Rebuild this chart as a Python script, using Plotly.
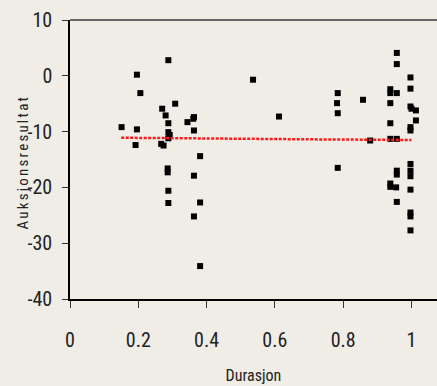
import plotly.graph_objects as go

durasjon = [0.151, 0.196, 0.206, 0.196, 0.192, 0.288, 0.308, 0.270, 0.280, 0.288,
            0.288, 0.292, 0.288, 0.267, 0.274, 0.344, 0.361, 0.363, 0.363, 0.381,
            0.363, 0.286, 0.286, 0.288, 0.288, 0.381, 0.363, 0.381, 0.536, 0.612,
            0.784, 0.782, 0.784, 0.784, 0.858, 0.879, 0.938, 0.938, 0.938, 0.938,
            0.938, 0.957, 0.957, 0.957, 0.957, 0.997, 0.997, 0.997, 1.000, 1.013,
            1.013, 0.997, 0.997, 0.997, 0.997, 0.997, 0.997, 0.997, 0.997, 0.997,
            0.957, 0.957, 0.938, 0.938, 0.955, 0.957]
resultat = [-9.2, 0.2, -3.1, -9.6, -12.4, 2.8, -5.0, -5.9, -7.1, -8.5,
            -10.1, -10.6, -11.2, -12.2, -12.5, -8.3, -7.7, -7.4, -9.8, -14.4,
            -17.9, -16.6, -17.3, -20.6, -22.8, -22.7, -25.2, -34.1, -0.7, -7.3,
            -3.1, -4.9, -6.7, -16.5, -4.3, -11.6, -2.4, -3.1, -4.9, -8.5,
            -11.3, 4.1, 2.1, -3.1, -11.3, -0.3, -2.3, -5.5, -5.9, -6.2,
            -8.0, -9.2, -9.8, -15.8, -17.0, -18.0, -20.4, -24.5, -25.2, -27.7,
            -17.0, -17.7, -19.3, -19.9, -20.0, -22.6]

trend_x = [0.15, 0.29, 0.735, 1.0]
trend_y = [-11.1, -11.2, -11.4, -11.5]

x_ticks = [0, 0.2, 0.4, 0.6, 0.8, 1]
x_labels = ["0", "0.2", "0.4", "0.6", "0.8", "1"]
y_ticks = [-40, -30, -20, -10, 0, 10]
y_labels = ["-40", "-30", "-20", "-10", "0", "10"]

BG = "#f0ede7"
FONT = "Roboto Condensed, Liberation Sans Narrow, DejaVu Sans Condensed, sans-serif"

fig = go.Figure()
fig.add_trace(go.Scatter(x=durasjon, y=resultat, mode="markers",
                         marker=dict(symbol="square", size=6, color="black"),
                         showlegend=False))
fig.add_trace(go.Scatter(x=trend_x, y=trend_y, mode="lines",
                         line=dict(color="#ff1a1a", width=2.5, dash="3px,1.5px"),
                         showlegend=False))

fig.update_layout(
    width=437, height=386,
    margin=dict(l=70, r=0, t=20, b=87),
    paper_bgcolor=BG, plot_bgcolor=BG,
    font=dict(family=FONT, color="#222222"),
    xaxis=dict(range=[0, 1.0747], tickvals=x_ticks, ticktext=x_labels,
               showgrid=False, zeroline=False, showline=True, linecolor="black",
               linewidth=1.5, ticks="outside", ticklen=7, tickcolor="#333333",
               tickwidth=1, tickfont=dict(size=20), ticklabelstandoff=15,
               title=dict(text="Durasjon", font=dict(size=16), standoff=19)),
    yaxis=dict(range=[-40, 10], tickvals=y_ticks, ticktext=y_labels,
               showgrid=False, zeroline=False, showline=True, linecolor="black",
               linewidth=1.5, ticks="outside", ticklen=6, tickcolor="#333333",
               tickwidth=1, tickfont=dict(size=20), ticklabelstandoff=6),
    annotations=[dict(text='<span style="letter-spacing:2.2px">Auksjonsresultat</span>',
                      xref="paper", yref="paper", x=0, y=0.5, xanchor="center",
                      yanchor="middle", xshift=-48, yshift=-3, textangle=-90,
                      showarrow=False, font=dict(size=15, color="#222222"))],
    shapes=[dict(type="line", xref="paper", yref="paper", x0=0, x1=1, y0=1, y1=1,
                 line=dict(color="#666666", width=2))],
)

fig.write_html("out.html")
